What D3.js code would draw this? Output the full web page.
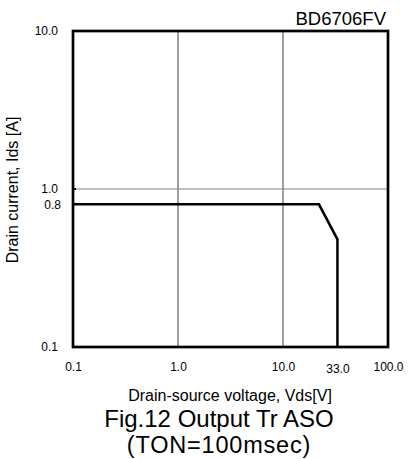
<!DOCTYPE html>
<html><head><meta charset="utf-8">
<script src="https://cdn.jsdelivr.net/npm/d3@7"></script>
<style>html,body{margin:0;padding:0;background:#fff;}svg{display:block;font-family:Arial,"Liberation Sans",sans-serif;}</style>
</head><body>
<svg id="c" width="417" height="459"></svg>
<script>
// data
const vds = [0.1, 22, 33, 33];
const ids = [0.8, 0.8, 0.48, 0.1];
const xTicks = [0.1, 1, 10, 33, 100];
const xTickLabels = ["0.1", "1.0", "10.0", "33.0", "100.0"];
const yTicks = [0.1, 0.8, 1, 10];
const yTickLabels = ["0.1", "0.8", "1.0", "10.0"];
const xGrid = [1, 10];
const yGrid = [1];

const svg = d3.select("#c");
const L = 73, R = 388, T = 31, B = 347;
const x = d3.scaleLog().domain([0.1, 100]).range([L, R]);
const y = d3.scaleLog().domain([0.1, 10]).range([B, T]);

// grid
svg.append("g").selectAll("line").data(xGrid).join("line")
  .attr("x1", d => x(d)).attr("x2", d => x(d)).attr("y1", T).attr("y2", B)
  .attr("stroke", "#808080").attr("stroke-width", 1.5);
svg.append("g").selectAll("line").data(yGrid).join("line")
  .attr("x1", L).attr("x2", R).attr("y1", d => y(d)).attr("y2", d => y(d))
  .attr("stroke", "#808080").attr("stroke-width", 1.2);

// curve
const line = d3.line().x(d => x(d[0])).y(d => y(d[1]));
svg.append("path").datum(vds.map((v, i) => [v, ids[i]]))
  .attr("d", line).attr("fill", "none").attr("stroke", "#000").attr("stroke-width", 2.5)
  .attr("stroke-linejoin", "miter");

// frame
svg.append("rect").attr("x", L).attr("y", T).attr("width", R - L).attr("height", B - T)
  .attr("fill", "none").attr("stroke", "#000").attr("stroke-width", 2.7);

// x axis labels
const xAxis = d3.axisBottom(x).tickValues(xTicks).tickSize(0)
  .tickFormat((d, i) => xTickLabels[i]);
const gx = svg.append("g").attr("transform", `translate(0,${B})`).call(xAxis);
gx.select(".domain").remove();
gx.selectAll("text").attr("font-size", 12).attr("font-family", "Arial,'Liberation Sans',sans-serif")
  .attr("fill", "#000").attr("dy", null).attr("y", d => d === 33 ? 26 : 24);

// y axis labels
const yAxis = d3.axisLeft(y).tickValues(yTicks).tickSize(0)
  .tickFormat((d, i) => yTickLabels[i]);
const gy = svg.append("g").attr("transform", `translate(${L},0)`).call(yAxis);
gy.select(".domain").remove();
gy.selectAll("text").attr("font-size", 12).attr("font-family", "Arial,'Liberation Sans',sans-serif")
  .attr("fill", "#000").attr("x", d => d === 0.8 ? -12 : -15).attr("dy", "0.32em");

// small nub at 1.0
svg.append("line").attr("x1", L).attr("x2", L + 3).attr("y1", y(1)).attr("y2", y(1))
  .attr("stroke", "#000").attr("stroke-width", 2);

// titles
svg.append("text").attr("x", 386).attr("y", 25).attr("text-anchor", "end")
  .attr("font-size", 18.5).text("BD6706FV");
svg.append("text").attr("x", 230).attr("y", 401).attr("text-anchor", "middle")
  .attr("font-size", 16).text("Drain-source voltage, Vds[V]");
svg.append("text").attr("transform", "translate(18,190) rotate(-90)").attr("text-anchor", "middle")
  .attr("font-size", 16).text("Drain current, Ids [A]");
svg.append("text").attr("x", 219).attr("y", 427).attr("text-anchor", "middle")
  .attr("font-size", 24).text("Fig.12 Output Tr ASO");
svg.append("text").attr("x", 219).attr("y", 453).attr("text-anchor", "middle")
  .attr("font-size", 23.5).attr("letter-spacing", 0.8).text("(TON=100msec)");
</script>
</body></html>
